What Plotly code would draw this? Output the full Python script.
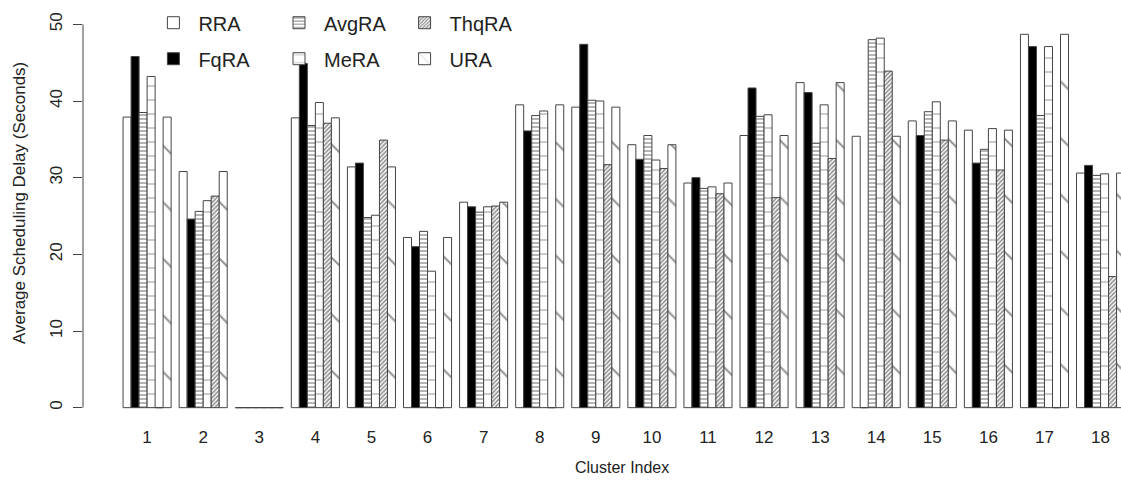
import plotly.graph_objects as go

# Average scheduling delay (seconds) per cluster for each allocation scheme
clusters = [str(i) for i in range(1, 19)]
rra   = [37.9, 30.8, 0, 37.8, 31.4, 22.2, 26.8, 39.5, 39.2, 34.3, 29.3, 35.5, 42.4, 35.4, 37.4, 36.2, 48.7, 30.6]
fqra  = [45.8, 24.6, 0, 44.9, 31.9, 21.0, 26.2, 36.1, 47.4, 32.4, 30.0, 41.7, 41.1, 0, 35.5, 31.9, 47.1, 31.6]
avgra = [38.5, 25.6, 0, 36.8, 24.8, 23.0, 25.5, 38.1, 40.1, 35.5, 28.6, 38.0, 34.5, 48.0, 38.6, 33.7, 38.1, 30.3]
mera  = [43.2, 27.0, 0, 39.8, 25.1, 17.8, 26.2, 38.7, 40.0, 32.3, 28.8, 38.2, 39.5, 48.2, 39.9, 36.4, 47.1, 30.5]
thqra = [0, 27.6, 0, 37.1, 34.9, 0, 26.3, 0, 31.7, 31.2, 27.9, 27.4, 32.5, 43.9, 34.9, 31.0, 0, 17.1]
ura   = [37.9, 30.8, 0, 37.8, 31.4, 22.2, 26.8, 39.5, 39.2, 34.3, 29.3, 35.5, 42.4, 35.4, 37.4, 36.2, 48.7, 30.6]

names = ["RRA", "FqRA", "AvgRA", "MeRA", "ThqRA", "URA"]
values = [rra, fqra, avgra, mera, thqra, ura]

# barplot-style layout: 6 unit-wide bars per cluster, one unit of space between clusters
n_bars = len(names)
step = n_bars + 1
centers = [1 + n_bars / 2 + step * i for i in range(len(clusters))]

EDGE = "#454545"
FONT = "Liberation Sans, Arial, sans-serif"

styles = {
    "RRA":   dict(color="white"),
    "FqRA":  dict(color="black"),
    "AvgRA": dict(color="white", pattern=dict(shape="-", size=4, solidity=0.35, fgcolor="#2a2a2a")),
    "MeRA":  dict(color="white", pattern=dict(shape="-", size=14, solidity=0.08, fgcolor="#444444")),
    "ThqRA": dict(color="white", pattern=dict(shape="/", size=3, solidity=0.55, fgcolor="#262626")),
    "URA":   dict(color="white", pattern=dict(shape="\\", size=40, solidity=0.05, fgcolor="#2a2a2a")),
}
legend_of = {"RRA": "legend", "FqRA": "legend", "AvgRA": "legend2",
             "MeRA": "legend2", "ThqRA": "legend3", "URA": "legend3"}

fig = go.Figure()
for name, vals in zip(names, values):
    fig.add_trace(go.Bar(
        x=centers, y=vals, name=name,
        marker=dict(line=dict(color=EDGE, width=1), **styles[name]),
        legend=legend_of[name], legendgroup=name,
    ))

# zero-valued bars still show their bottom edge on the baseline
zx, zy = [], []
for j, vals in enumerate(values):
    for c, v in zip(centers, vals):
        if v == 0:
            left = c - n_bars / 2 + j
            zx += [left + 0.12, left + 0.88, None]
            zy += [0, 0, None]
fig.add_trace(go.Scatter(x=zx, y=zy, mode="lines", line=dict(color=EDGE, width=1),
                         showlegend=False, hoverinfo="skip"))

leg_common = dict(font=dict(family=FONT, size=20, color="#222222"), bgcolor="rgba(0,0,0,0)",
                  yanchor="top", y=1.014, xanchor="left", tracegroupgap=7, orientation="v",
                  itemwidth=40)
fig.update_layout(
    width=1121, height=484,
    margin=dict(l=83, r=0, t=9, b=61),
    paper_bgcolor="white", plot_bgcolor="white",
    barmode="group", bargap=1 / step, bargroupgap=0,
    font=dict(family=FONT, color="#222222"),
    legend=dict(x=0.063, **leg_common),
    legend2=dict(x=0.184, **leg_common),
    legend3=dict(x=0.305, **leg_common),
    xaxis=dict(range=[-4, 125.55], tickvals=centers, ticktext=clusters, showgrid=False,
               zeroline=False, showline=False, ticks="", tickfont=dict(size=17),
               ticklabelstandoff=2),
    yaxis=dict(range=[-2, 52], tickvals=[0, 10, 20, 30, 40, 50], showgrid=False,
               zeroline=False, showline=False, ticks="outside", ticklen=9, tickcolor=EDGE,
               tickangle=-90, tickfont=dict(size=17), ticklabelstandoff=4),
    shapes=[dict(type="line", xref="paper", x0=0, x1=0, yref="y", y0=0, y1=50,
                 line=dict(color=EDGE, width=1))],
    annotations=[
        dict(text="Average Scheduling Delay (Seconds)", xref="paper", yref="paper",
             x=(19 - 83) / 1038, y=(423 - 203) / 414, textangle=-90, showarrow=False,
             font=dict(size=17, color="#222222"), xanchor="center", yanchor="middle"),
        dict(text="Cluster Index", xref="paper", yref="paper",
             x=(622 - 83) / 1038, y=(423 - 467) / 414, showarrow=False,
             font=dict(size=16, color="#222222"), xanchor="center", yanchor="middle"),
    ],
)

fig.write_html("out.html")
